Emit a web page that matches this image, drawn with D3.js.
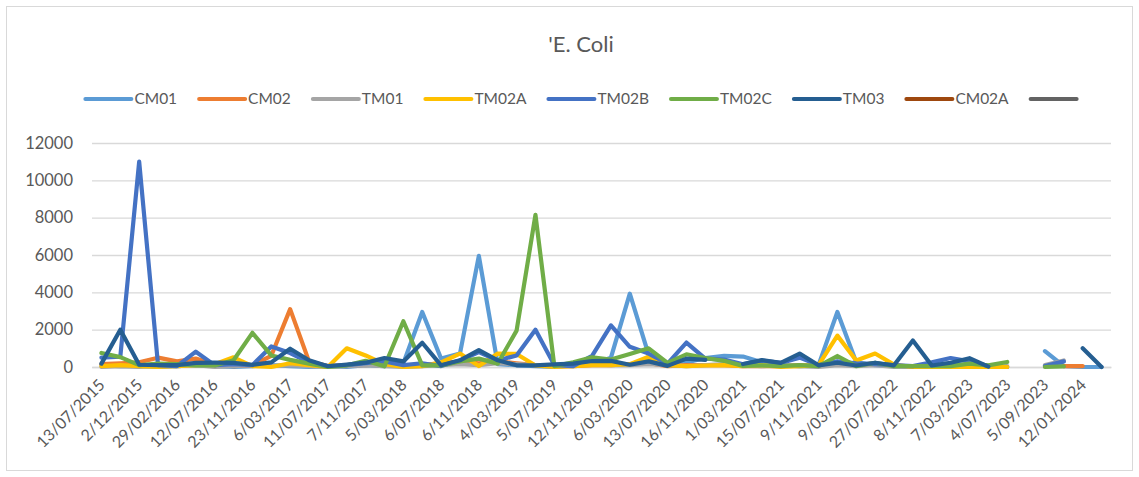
<!DOCTYPE html>
<html>
<head>
<meta charset="utf-8">
<script src="https://cdn.jsdelivr.net/npm/d3@7"></script>
<style>
  html, body { margin: 0; padding: 0; background: #fff; }
  svg { display: block; }
  text { font-family: Lato, "Open Sans", sans-serif; fill: #595959; }
</style>
</head>
<body>
<svg id="chart" width="1139" height="477"></svg>
<script>
// ---------- DATA ----------
const categories = [
  "13/07/2015","15/09/2015","2/12/2015","18/01/2016","29/02/2016","9/05/2016","12/07/2016","20/09/2016",
  "23/11/2016","16/01/2017","6/03/2017","8/05/2017","11/07/2017","11/09/2017","7/11/2017","15/01/2018",
  "5/03/2018","7/05/2018","6/07/2018","10/09/2018","6/11/2018","14/01/2019","4/03/2019","6/05/2019",
  "5/07/2019","9/09/2019","12/11/2019","14/01/2020","6/03/2020","11/05/2020","13/07/2020","14/09/2020",
  "16/11/2020","11/01/2021","1/03/2021","10/05/2021","15/07/2021","13/09/2021","9/11/2021","11/01/2022",
  "9/03/2022","16/05/2022","27/07/2022","13/09/2022","8/11/2022","10/01/2023","7/03/2023","9/05/2023",
  "4/07/2023","8/08/2023","5/09/2023","7/11/2023","12/01/2024","12/03/2024"
];
const seriesNames = ["CM01","CM02","TM01","TM02A","TM02B","TM02C","TM03","CM02A",""];
const seriesColors = ["#5B9BD5","#ED7D31","#A5A5A5","#FFC000","#4472C4","#70AD47","#255E91","#9E480E","#636363"];

const CM01 = [100,50,50,0,50,100,50,0,50,100,50,0,50,0,100,50,
  200,2950,450,720,5950,150,100,50,0,100,150,500,3930,650,150,250,
  480,600,560,250,100,50,100,2950,250,100,50,0,100,200,100,0,
  0,null,850,50,0,0];
const CM02 = [150,200,250,500,300,450,150,50,100,600,3100,300,50,100,100,150,
  100,100,200,300,200,300,200,100,50,50,100,100,150,200,50,100,
  100,100,50,50,50,100,50,200,100,200,50,50,50,50,50,0,
  0,null,null,50,50,null];
const TM01 = [0,50,0,100,50,100,0,50,100,50,100,50,0,50,100,50,
  0,50,100,150,100,200,150,100,50,100,150,100,100,150,100,50,
  100,150,100,50,100,50,0,100,50,100,0,50,50,100,50,0,
  50,null,100,350,null,null];
const TM02A = [50,100,50,0,50,100,150,520,50,0,200,100,0,1000,620,150,
  0,50,250,720,50,720,700,80,0,50,100,100,150,550,100,50,
  80,100,50,100,0,50,100,1680,350,720,130,0,0,0,0,0,
  0,null,null,null,null,null];
const TM02B = [500,550,11000,100,50,820,100,150,100,1100,750,250,50,100,200,300,
  100,200,50,350,800,350,620,2000,100,50,600,2230,1080,720,180,1310,
  450,400,150,350,220,500,100,300,200,150,100,50,250,480,300,50,
  null,null,50,300,null,null];
const TM02C = [750,530,100,180,150,80,80,360,1830,620,380,180,0,90,330,40,
  2450,90,90,300,450,180,1950,8150,50,250,520,400,700,1000,220,680,
  480,330,60,90,50,100,50,590,50,230,50,50,50,50,180,90,
  270,null,0,30,null,null];
const TM03 = [180,2000,120,100,100,220,230,220,120,250,980,360,40,130,230,480,
  300,1300,90,360,900,360,90,90,140,180,320,330,120,300,60,450,
  380,null,160,370,220,720,90,230,80,230,90,1420,80,230,470,20,
  null,null,null,null,1000,0];
const CM02A = categories.map(() => null);
const SERIES9 = categories.map(() => null);

const yTicks = [0,2000,4000,6000,8000,10000,12000];
const chartTitle = "'E. Coli";

// ---------- CHART ----------
const seriesData = [CM01, CM02, TM01, TM02A, TM02B, TM02C, TM03, CM02A, SERIES9];
const svg = d3.select("#chart");
const W = 1139, H = 477;
const plot = { left: 92, right: 1111, top: 143, bottom: 367 };

// outer border
svg.append("rect").attr("x", 6.5).attr("y", 6.5).attr("width", W - 13).attr("height", H - 13)
  .attr("fill", "#fff").attr("stroke", "#d9d9d9").attr("stroke-width", 1);

const x = d3.scalePoint().domain(d3.range(categories.length)).range([plot.left, plot.right]).padding(0.5);
const y = d3.scaleLinear().domain([0, 12000]).range([plot.bottom, plot.top]);

// gridlines
svg.append("g").attr("transform", `translate(${plot.left},0)`)
  .call(d3.axisLeft(y).tickValues(yTicks).tickSize(-(plot.right - plot.left)).tickFormat(""))
  .call(g => g.select(".domain").remove())
  .call(g => g.selectAll("line").attr("stroke", "#d9d9d9").attr("stroke-width", 1.3));

// y labels
svg.append("g").attr("transform", `translate(73,0)`)
  .call(d3.axisLeft(y).tickValues(yTicks).tickSize(0).tickPadding(0).tickFormat(d3.format("d")))
  .call(g => g.select(".domain").remove())
  .call(g => g.selectAll("text").style("font-size", "16.5px").attr("fill", "#595959"));

// x labels
const xg = svg.append("g").attr("transform", `translate(0,${plot.bottom})`)
  .call(d3.axisBottom(x).tickValues(d3.range(0, categories.length, 2)).tickSize(0).tickFormat(i => categories[i]));
xg.select(".domain").attr("stroke", "#d9d9d9").attr("stroke-width", 1.3);
xg.selectAll("text")
  .style("font-size", "16px")
  .attr("fill", "#595959")
  .attr("text-anchor", "end")
  .attr("x", 0).attr("y", 0).attr("dy", 0)
  .attr("transform", "translate(4,19) rotate(-45)");

// lines
const line = d3.line().defined(d => d.v !== null).x(d => x(d.i)).y(d => y(d.v));
seriesData.forEach((arr, s) => {
  svg.append("path")
    .datum(arr.map((v, i) => ({ i, v })))
    .attr("fill", "none")
    .attr("stroke", seriesColors[s])
    .attr("stroke-width", 4.2)
    .attr("stroke-linejoin", "round")
    .attr("stroke-linecap", "round")
    .attr("d", line);
});

// title
svg.append("text").attr("x", 581).attr("y", 52).attr("text-anchor", "middle")
  .style("font-size", "22px").attr("fill", "#595959").text(chartTitle);

// legend
const leg = svg.append("g");
let cx = 0;
seriesNames.forEach((name, s) => {
  const g = leg.append("g");
  g.append("line").attr("x1", 0).attr("x2", 46).attr("y1", 0).attr("y2", 0)
    .attr("stroke", seriesColors[s]).attr("stroke-width", 4).attr("stroke-linecap", "round");
  const t = g.append("text").attr("x", 49).attr("y", 0).attr("dy", "0.35em")
    .style("font-size", "15.5px").attr("fill", "#595959").text(name);
  const tw = name ? t.node().getComputedTextLength() : 0;
  g.attr("transform", `translate(${cx},0)`);
  cx += 46 + (name ? 3 + tw : 0) + 22;
});
const totalW = cx - 22;
leg.attr("transform", `translate(${581 - totalW / 2},99)`);
</script>
</body>
</html>
